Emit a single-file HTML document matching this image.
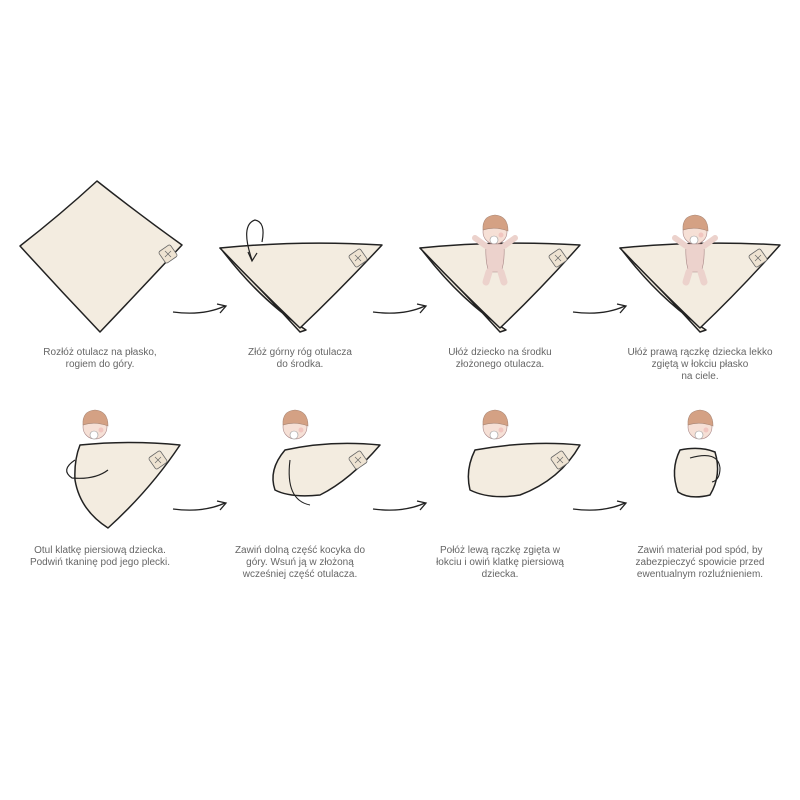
<!DOCTYPE html>
<html><head><meta charset="utf-8"><style>
html,body{margin:0;padding:0;background:#fff;}
svg{display:block;}
text{font-family:"Liberation Sans",sans-serif;font-size:10px;fill:#666;text-anchor:middle;}
</style></head><body>
<svg width="800" height="800" viewBox="0 0 800 800" xmlns="http://www.w3.org/2000/svg">
<defs>
<g id="head">
  <circle cx="0" cy="0" r="12" fill="#f6e0d6" stroke="#a88" stroke-width="0.6"/>
  <path d="M-12,-2 Q-13,-16 0,-17 Q13,-16 13,-1 Q0,-6 -12,-2Z" fill="#d4a184" stroke="#a87" stroke-width="0.6"/>
  <circle cx="-1" cy="8" r="4" fill="#fff" stroke="#999" stroke-width="0.6"/>
  <circle cx="6" cy="3" r="2.5" fill="#f1c6c0"/>
</g>
<g id="baby">
  <use href="#head"/>
  <path d="M-9,12 Q-10,30 -6,40 L6,40 Q10,30 9,12Z" fill="#ecd2cc" stroke="#a88" stroke-width="0.6"/>
  <path d="M-9,14 L-20,6 M9,14 L20,6" stroke="#ecd2cc" stroke-width="6" stroke-linecap="round"/>
  <path d="M-6,40 L-9,50 M6,40 L9,50" stroke="#ecd2cc" stroke-width="7" stroke-linecap="round"/>
</g>
<g id="tag"><rect x="-7" y="-7" width="14" height="14" rx="2" fill="#eee3d2" stroke="#666" stroke-width="0.8" transform="rotate(-35)"/><path d="M-3,-3 L3,3 M3,-3 L-3,3" stroke="#666" stroke-width="0.7"/></g>
<g id="arr"><path d="M0,6 Q30,10 52,0" fill="none" stroke="#222" stroke-width="1.3"/><path d="M44,-2 L53,0 L47,7" fill="none" stroke="#222" stroke-width="1.3"/></g>
</defs>
<g fill="#f3ece0" stroke="#222" stroke-width="1.5" stroke-linejoin="round">
  <!-- row1 -->
  <path d="M97,181 Q140,215 182,245 Q140,290 100,332 Q60,290 20,246 Q60,215 97,181Z"/>
  <path d="M222,250 Q260,300 306,330 L300,332 Q262,290 220,248Z" />
  <path d="M220,248 Q300,240 382,245 Q340,290 300,328 Q260,290 220,248Z"/>
  <path d="M422,250 Q460,300 506,330 L500,332 Q462,290 420,248Z"/>
  <path d="M420,248 Q500,240 580,245 Q540,290 500,328 Q460,290 420,248Z"/>
  <path d="M622,250 Q660,300 706,330 L700,332 Q662,290 620,248Z"/>
  <path d="M620,248 Q700,240 780,245 Q740,290 700,328 Q660,290 620,248Z"/>
  <!-- row2 -->
  <path d="M80,445 Q130,440 180,445 Q150,490 108,528 Q80,510 75,480 Q74,460 80,445Z"/>
  <path d="M285,450 Q330,440 380,445 Q350,480 320,495 Q290,498 275,490 Q268,470 285,450Z"/>
  <path d="M475,450 Q530,440 580,445 Q560,480 520,495 Q490,500 470,490 Q465,470 475,450Z"/>
  <path d="M680,450 Q700,446 715,452 Q722,475 710,495 Q690,500 678,492 Q670,470 680,450Z"/>
</g>
<use href="#tag" x="168" y="254"/><use href="#tag" x="358" y="258"/><use href="#tag" x="558" y="258"/><use href="#tag" x="758" y="258"/>
<use href="#tag" x="158" y="460"/><use href="#tag" x="358" y="460"/><use href="#tag" x="560" y="460"/>
<path d="M252,260 Q240,225 255,220 Q266,222 262,242" fill="none" stroke="#222" stroke-width="1.2"/>
<path d="M248,252 L252,261 L257,253" fill="none" stroke="#222" stroke-width="1.2"/>
<use href="#baby" x="495" y="232"/>
<use href="#baby" x="695" y="232"/>
<use href="#head" x="95" y="427"/><use href="#head" x="295" y="427"/><use href="#head" x="495" y="427"/><use href="#head" x="700" y="427"/>
<path d="M75,460 Q60,470 72,478 Q95,480 108,470" fill="none" stroke="#222" stroke-width="1.2"/>
<path d="M290,460 Q285,500 310,505" fill="none" stroke="#222" stroke-width="1.1"/>
<path d="M690,458 Q718,450 720,468 Q720,480 712,482" fill="none" stroke="#222" stroke-width="1.1"/>
<use href="#arr" x="173" y="306"/><use href="#arr" x="373" y="306"/><use href="#arr" x="573" y="306"/>
<use href="#arr" x="173" y="503"/><use href="#arr" x="373" y="503"/><use href="#arr" x="573" y="503"/>
<text x="100" y="355">Rozłóż otulacz na płasko,</text><text x="100" y="367">rogiem do góry.</text>
<text x="300" y="355">Złóż górny róg otulacza</text><text x="300" y="367">do środka.</text>
<text x="500" y="355">Ułóż dziecko na środku</text><text x="500" y="367">złożonego otulacza.</text>
<text x="700" y="355">Ułóż prawą rączkę dziecka lekko</text><text x="700" y="367">zgiętą w łokciu płasko</text><text x="700" y="379">na ciele.</text>
<text x="100" y="553">Otul klatkę piersiową dziecka.</text><text x="100" y="565">Podwiń tkaninę pod jego plecki.</text>
<text x="300" y="553">Zawiń dolną część kocyka do</text><text x="300" y="565">góry. Wsuń ją w złożoną</text><text x="300" y="577">wcześniej część otulacza.</text>
<text x="500" y="553">Połóż lewą rączkę zgięta w</text><text x="500" y="565">łokciu i owiń klatkę piersiową</text><text x="500" y="577">dziecka.</text>
<text x="700" y="553">Zawiń materiał pod spód, by</text><text x="700" y="565">zabezpieczyć spowicie przed</text><text x="700" y="577">ewentualnym rozluźnieniem.</text>
</svg>
</body></html>
